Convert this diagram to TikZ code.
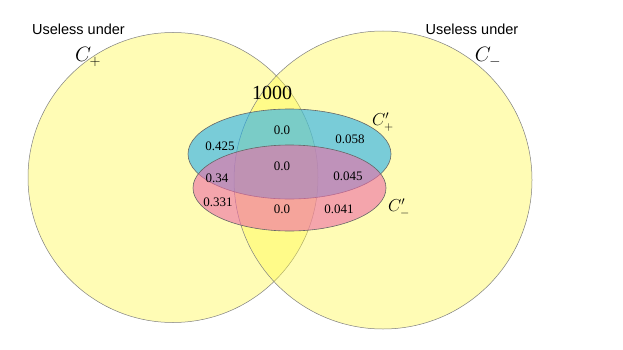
\documentclass[tikz,border=0pt]{standalone}
\usepackage{fontspec}
\setmainfont{Liberation Serif}
\newfontfamily\labelsans{Liberation Sans}
\definecolor{setyellow}{RGB}{255,248,70}
\definecolor{setcyan}{RGB}{33,173,240}
\definecolor{setpink}{RGB}{238,108,167}
\tikzset{
  bigset/.style={fill=setyellow,fill opacity=0.4,draw=black!50,line width=0.5pt},
  subset/.style={fill opacity=0.6,draw=black!60,line width=0.6pt},
  headlbl/.style={font=\labelsans\fontsize{14.5}{16}\selectfont},
  setlbl/.style={font=\fontsize{21}{24}\selectfont},
  sublbl/.style={font=\fontsize{18}{20}\selectfont},
  val/.style={font=\fontsize{13}{15}\selectfont,inner sep=0pt}
}

\begin{document}
\begin{tikzpicture}[x=1pt,y=-1pt]
\useasboundingbox (0,0) rectangle (623,350);

% the two useless sets
\path[bigset] (173,177.5) circle[radius=145];
\path[bigset] (383,180) circle[radius=149];

% the two primed sets
\path[subset,fill=setcyan] (289.5,154) ellipse[x radius=101.5,y radius=45];
\path[subset,fill=setpink] (289.5,188) ellipse[x radius=96.5,y radius=43];

\node[headlbl] (uselessP) at (78.5,29) {Useless under};
\node[headlbl] (uselessM) at (472,29) {Useless under};
\node[setlbl] (cplus) at (88,57) {$C_+$};
\node[setlbl] (cminus) at (488,57) {$C_-$};
\node[font=\fontsize{20}{22}\selectfont] (total) at (272,93) {1000};
\node[sublbl] (cpplus) at (383,122) {$C'_+$};
\node[sublbl] (cpminus) at (399,208) {$C'_-$};

\node[val] (vplusonly) at (220,146) {0.425};
\node[val] (vplusboth) at (282,130) {0.0};
\node[val] (vplusmin) at (350,139) {0.058};
\node[val] (vmidplus) at (217,178) {0.34};
\node[val] (vmidboth) at (282,166) {0.0};
\node[val] (vmidmin) at (348,176) {0.045};
\node[val] (vminplus) at (218,202) {0.331};
\node[val] (vminboth) at (282,209) {0.0};
\node[val] (vminmin) at (339,209) {0.041};

\end{tikzpicture}
\end{document}
